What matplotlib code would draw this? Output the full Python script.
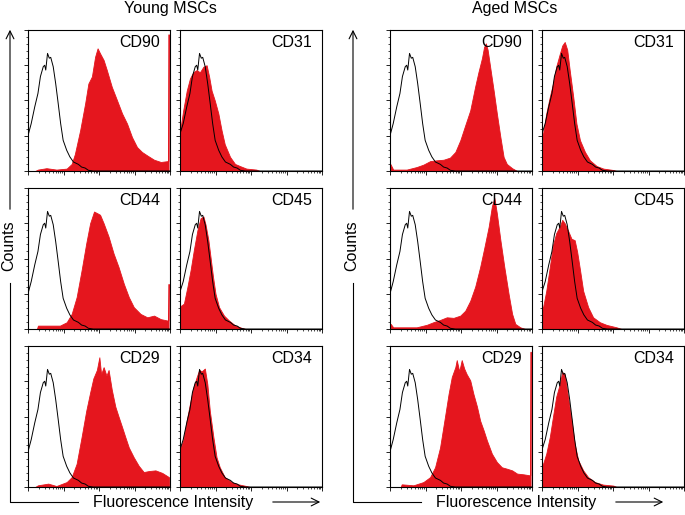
import numpy as np
import matplotlib.pyplot as plt
from matplotlib.lines import Line2D
from matplotlib.patches import FancyArrowPatch
from matplotlib.ticker import LogLocator, MultipleLocator, NullFormatter

plt.rcParams['font.family'] = ['Liberation Sans', 'DejaVu Sans']

W, H = 685, 515
RED = "#e5161e"

# x values are log10(fluorescence intensity), y values are % of panel max counts
# isotype control (black outline), same in every panel
ctrl_x = [0.0, 0.09, 0.19, 0.28, 0.35, 0.43, 0.47, 0.50, 0.55, 0.60, 0.64, 0.71, 0.78,
          0.85, 0.92, 0.99, 1.09, 1.18, 1.28, 1.42, 1.51, 1.61, 1.70, 1.84, 4.0]
ctrl_y = [26.5, 33.6, 45.5, 55, 67, 74, 75, 71.6, 83.4, 80, 80.6, 74, 62,
          48, 33.6, 21.8, 14.7, 10, 6.4, 4.7, 2.8, 2.1, 0.5, 0, 0]
young_ctrl_edge = 98
aged_ctrl_edge = 86

# young MSCs
young_cd90_x = [0.0, 0.2, 0.28, 0.52, 0.80, 1.09, 1.23, 1.32, 1.47, 1.61, 1.70, 1.80, 1.89, 1.96, 2.03,
                2.13, 2.22, 2.36, 2.51, 2.65, 2.79, 2.93, 3.07, 3.21, 3.36, 3.55, 3.74, 3.93, 3.95, 3.96]
young_cd90_y = [0, 0, 1, 2, 1, 1.7, 5, 12, 29, 48, 62, 67, 81, 87, 83.4,
                78.7, 71.6, 59.7, 50, 40.8, 33.6, 24, 17, 13.5, 11, 8, 6.4, 7, 7, 97]
young_cd31_x = [0.0, 0.09, 0.19, 0.28, 0.37, 0.47, 0.56, 0.66, 0.75, 0.82, 0.89, 0.98, 1.08, 1.17,
                1.26, 1.41, 1.55, 1.69, 1.87, 2.15, 2.25]
young_cd31_y = [28, 43, 57, 65.6, 70, 71.6, 70, 74, 75, 67, 57, 50, 40.8, 29,
                19, 10, 5, 3.5, 1.7, 1, 0]
young_cd44_x = [0.0, 0.25, 0.28, 0.90, 1.09, 1.23, 1.37, 1.51, 1.64, 1.75, 1.86, 1.96, 2.03, 2.13,
                2.27, 2.41, 2.55, 2.70, 2.84, 2.98, 3.17, 3.36, 3.55, 3.74, 3.93, 3.95, 3.96]
young_cd44_y = [0, 0, 2.4, 2.4, 4.8, 10.7, 22.6, 41.7, 60.7, 75, 83.3, 82, 81, 75,
                65.5, 53.6, 44, 32, 22.6, 15.5, 10.7, 8.3, 9.5, 7, 6, 6, 32]
young_cd45_x = [0.0, 0.11, 0.21, 0.30, 0.39, 0.49, 0.58, 0.66, 0.72, 0.80, 0.86, 0.93, 1.00, 1.10,
                1.24, 1.38, 1.56, 1.75, 1.85]
young_cd45_y = [16, 18, 30, 42, 56, 70, 78.6, 79.8, 74, 63, 51, 37, 25, 15.5,
                9.5, 6, 2.4, 0.7, 0]
young_cd29_x = [0.0, 0.2, 0.28, 0.57, 0.80, 1.09, 1.23, 1.37, 1.51, 1.64, 1.75, 1.84, 1.94, 2.01, 2.06,
                2.13, 2.21, 2.27, 2.36, 2.46, 2.55, 2.65, 2.74, 2.84, 2.98, 3.12, 3.26, 3.40, 3.59, 3.78, 3.97]
young_cd29_y = [0, 0, 1.2, 2.4, 0.7, 3.5, 7, 16.5, 35.5, 54, 67, 77, 83, 92, 80,
                85, 79, 83, 69, 57, 50, 42.5, 35.5, 28, 21, 15, 10.6, 11.3, 11.8, 10, 7]
young_cd34_x = [0.0, 0.02, 0.09, 0.19, 0.28, 0.37, 0.47, 0.54, 0.61, 0.70, 0.77, 0.84, 0.94, 1.03,
                1.12, 1.26, 1.45, 1.64, 1.87, 1.97]
young_cd34_y = [28, 28, 33, 47.5, 59, 70, 78, 83, 82, 84, 73, 54, 35.5, 21,
                14, 7, 3.5, 1.9, 0.7, 0]

# aged MSCs
aged_cd90_x = [0.0, 0.01, 0.09, 0.47, 0.75, 0.94, 1.13, 1.32, 1.51, 1.69, 1.84, 1.98, 2.12, 2.26,
               2.40, 2.49, 2.59, 2.65, 2.70, 2.75, 2.82, 2.92, 3.01, 3.11, 3.20, 3.29, 3.44, 3.58]
aged_cd90_y = [5, 5, 1, 1, 2.8, 4.5, 7, 7.6, 8, 9.5, 13.5, 21.8, 32.5, 43,
               60, 70, 80, 88, 90.5, 86, 74, 57, 40.8, 24, 10, 5, 2, 0]
aged_cd31_x = [0.0, 0.03, 0.12, 0.22, 0.31, 0.40, 0.50, 0.57, 0.64, 0.71, 0.78, 0.88, 0.97, 1.07,
               1.21, 1.35, 1.54, 1.73, 2.01, 2.10]
aged_cd31_y = [26.5, 26.5, 40.8, 52.6, 62, 74, 83, 89, 91.5, 86, 71.6, 52.6, 33.6, 21.8,
               13.5, 7.6, 3.5, 1.7, 0.7, 0]
aged_cd44_x = [0.0, 0.02, 0.09, 0.75, 1.04, 1.22, 1.41, 1.60, 1.79, 1.98, 2.12, 2.26, 2.40, 2.54,
               2.66, 2.78, 2.87, 2.94, 3.01, 3.11, 3.22, 3.34, 3.44, 3.53, 3.67, 3.81]
aged_cd44_y = [3.6, 3.6, 1.2, 1.2, 3, 4.8, 6.4, 8.3, 7.9, 9.5, 13, 20, 30, 44,
               58, 72.6, 87, 93, 82, 63, 44, 25, 10.7, 3.6, 1.2, 0]
aged_cd45_x = [0.0, 0.03, 0.12, 0.22, 0.31, 0.40, 0.50, 0.57, 0.64, 0.73, 0.83, 0.92, 0.99, 1.07,
               1.16, 1.30, 1.44, 1.63, 1.82, 2.10, 2.24]
aged_cd45_y = [15.5, 15.5, 27, 44, 59.5, 68, 72.6, 77.4, 75, 70, 64, 63, 54.8, 42,
               27, 15.5, 8.3, 4.8, 2.9, 1.2, 0]
aged_cd29_x = [0.0, 0.3, 0.33, 0.66, 0.94, 1.13, 1.27, 1.41, 1.55, 1.65, 1.74, 1.84, 1.88, 1.95, 2.02,
               2.09, 2.16, 2.26, 2.35, 2.45, 2.54, 2.64, 2.73, 2.87, 3.01, 3.15, 3.29, 3.44, 3.58, 3.76,
               3.93, 3.95, 3.96]
aged_cd29_y = [0, 0, 1.9, 1.2, 3.5, 7, 14, 28, 50, 66, 78, 85, 90, 82, 90,
               84, 80, 75.6, 66, 57, 47, 40, 33, 23.6, 17.7, 14, 13, 11.8, 9.5, 9,
               8.3, 8.3, 96]
aged_cd34_x = [0.0, 0.03, 0.12, 0.22, 0.31, 0.40, 0.50, 0.57, 0.64, 0.73, 0.83, 0.92, 1.02, 1.16,
               1.30, 1.49, 1.72, 2.01, 2.10]
aged_cd34_y = [16.5, 16.5, 23.6, 35.5, 50, 64, 73, 81.5, 80, 64, 47.5, 30.7, 19, 11.8,
               7, 3.5, 1.7, 1, 0]

young_panels = [("CD90", young_cd90_x, young_cd90_y), ("CD31", young_cd31_x, young_cd31_y),
                ("CD44", young_cd44_x, young_cd44_y), ("CD45", young_cd45_x, young_cd45_y),
                ("CD29", young_cd29_x, young_cd29_y), ("CD34", young_cd34_x, young_cd34_y)]
aged_panels = [("CD90", aged_cd90_x, aged_cd90_y), ("CD31", aged_cd31_x, aged_cd31_y),
               ("CD44", aged_cd44_x, aged_cd44_y), ("CD45", aged_cd45_x, aged_cd45_y),
               ("CD29", aged_cd29_x, aged_cd29_y), ("CD34", aged_cd34_x, aged_cd34_y)]

PW, PH = 142, 141
ROW_TOPS = [30, 188, 346]


def px(x, y):
    return x / W, 1 - y / H


def draw_panel(fig, left, top, name, lx, ly, edge):
    ax = fig.add_axes([left / W, 1 - (top + PH) / H, PW / W, PH / H])
    ax.fill_between(10 ** np.array(lx), ly, color=RED, lw=0.6, edgecolor=RED)
    cx, cy = list(ctrl_x), list(ctrl_y)
    if edge:
        cx = [0.015, 0.015] + cx[1:]
        cy = [edge, cy[0]] + cy[1:]
    ax.plot(10 ** np.array(cx), cy, color="black", lw=0.7)
    ax.set_xscale("log")
    ax.set_xlim(1, 1e4)
    ax.set_ylim(0, 100)
    ax.xaxis.set_major_locator(LogLocator(base=10, numticks=10))
    ax.xaxis.set_minor_locator(LogLocator(base=10, subs=np.arange(2, 10), numticks=10))
    ax.xaxis.set_major_formatter(NullFormatter())
    ax.xaxis.set_minor_formatter(NullFormatter())
    ax.yaxis.set_major_locator(MultipleLocator(25))
    ax.yaxis.set_minor_locator(MultipleLocator(5))
    ax.yaxis.set_major_formatter(NullFormatter())
    ax.tick_params(which="major", direction="out", length=3, width=0.6)
    ax.tick_params(which="minor", direction="out", length=1.5, width=0.5)
    for s in ax.spines.values():
        s.set_linewidth(0.8)
    ax.text(0.93, 0.91, name, transform=ax.transAxes, ha="right", va="center", fontsize=11.5)
    return ax


fig = plt.figure(figsize=(W / 100, H / 100), dpi=100)

groups = [("Young MSCs", young_panels, [28, 180], young_ctrl_edge, 10, 170),
          ("Aged MSCs", aged_panels, [390, 542], aged_ctrl_edge, 353, 515)]

for title, panels, cols, edge, ax_x, title_x in groups:
    for i, (name, lx, ly) in enumerate(panels):
        row, col = divmod(i, 2)
        draw_panel(fig, cols[col], ROW_TOPS[row], name, lx, ly, edge if col == 0 else None)

    fig.text(*px(title_x, 9), title, ha="center", va="center", fontsize=11.5)

    # y axis: arrow, gap for the label
    fig.add_artist(FancyArrowPatch(px(ax_x, 212), px(ax_x, 27), transform=fig.transFigure,
                                   arrowstyle="->", mutation_scale=14, lw=0.8, color="black"))
    fig.text(*px(ax_x - 1, 246), "Counts", rotation=90, ha="center", va="center", fontsize=11.5)
    fig.add_artist(Line2D([px(ax_x, 0)[0], px(ax_x, 0)[0], px(ax_x + 68, 0)[0]],
                          [px(0, 283)[1], px(0, 502)[1], px(0, 502)[1]],
                          transform=fig.transFigure, color="black", lw=0.8))

    # x axis label and arrow
    fig.text(*px(ax_x + 163, 503), "Fluorescence Intensity", ha="center", va="center", fontsize=11.5)
    fig.add_artist(FancyArrowPatch(px(ax_x + 260, 502), px(ax_x + 313, 502), transform=fig.transFigure,
                                   arrowstyle="->", mutation_scale=14, lw=0.8, color="black"))

fig.savefig("out.png", dpi=100)
